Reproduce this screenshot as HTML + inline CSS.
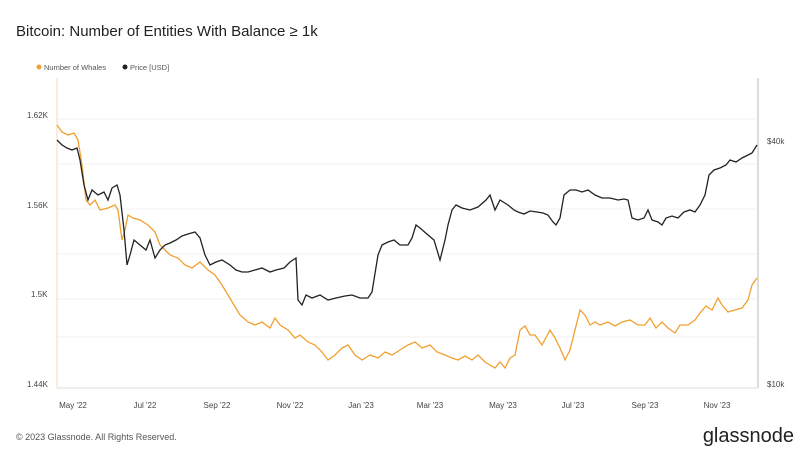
<!DOCTYPE html><html><head><style>body{margin:0;background:#fff;font-family:"Liberation Sans",sans-serif}</style></head><body>
<svg width="811" height="456" xmlns="http://www.w3.org/2000/svg" font-family="Liberation Sans, sans-serif">
<rect width="811" height="456" fill="#fff"/>
<text x="16" y="36" font-size="15" fill="#222">Bitcoin: Number of Entities With Balance ≥ 1k</text>
<circle cx="39" cy="67" r="2.5" fill="#f0a030"/><text x="44" y="70" font-size="7.5" fill="#555">Number of Whales</text>
<circle cx="125" cy="67" r="2.5" fill="#222"/><text x="130" y="70" font-size="7.5" fill="#555">Price [USD]</text>
<g stroke="#f2f2f2" stroke-width="1">
<line x1="57" x2="757" y1="119" y2="119"/><line x1="57" x2="757" y1="164" y2="164"/><line x1="57" x2="757" y1="209" y2="209"/><line x1="57" x2="757" y1="254" y2="254"/><line x1="57" x2="757" y1="299" y2="299"/><line x1="57" x2="757" y1="337" y2="337"/></g>
<line x1="57" x2="757" y1="388" y2="388" stroke="#ddd"/>
<line x1="57" x2="57" y1="78" y2="388" stroke="#f5d9b0"/>
<line x1="758" x2="758" y1="78" y2="388" stroke="#bbb"/>
<g font-size="8" fill="#444"><text x="27" y="118">1.62K</text><text x="27" y="208">1.56K</text><text x="31" y="297">1.5K</text><text x="27" y="387">1.44K</text>
<text x="767" y="144">$40k</text><text x="767" y="387">$10k</text></g>
<g font-size="8" fill="#444" text-anchor="middle"><text x="73" y="408">May '22</text><text x="145" y="408">Jul '22</text><text x="217" y="408">Sep '22</text><text x="290" y="408">Nov '22</text><text x="361" y="408">Jan '23</text><text x="430" y="408">Mar '23</text><text x="503" y="408">May '23</text><text x="573" y="408">Jul '23</text><text x="645" y="408">Sep '23</text><text x="717" y="408">Nov '23</text></g>
<polyline fill="none" stroke="#f0a030" stroke-width="1.3" points="57,125 62,132 68,135 74,133 78,140 82,165 86,200 90,205 95,200 100,210 108,208 115,205 118,210 122,240 125,230 128,215 133,218 140,220 148,225 155,232 160,245 165,250 170,255 178,258 185,265 192,268 200,262 208,270 215,275 222,285 228,295 234,305 240,315 248,322 255,325 262,322 270,328 275,318 280,325 288,330 295,338 300,335 308,342 315,345 322,352 328,360 335,355 342,348 348,345 355,355 362,360 370,355 378,358 385,352 392,355 400,350 408,345 415,342 422,348 430,345 437,352 445,355 452,358 458,360 465,356 472,360 478,355 485,362 490,365 495,368 500,362 505,368 510,358 515,355 520,330 525,326 530,335 535,335 542,345 550,330 555,338 560,348 565,360 570,350 575,330 580,310 585,315 590,325 595,322 600,325 608,322 615,326 622,322 630,320 638,325 645,325 650,318 656,328 662,322 668,328 675,333 680,325 688,325 695,320 700,313 706,306 712,310 718,298 722,305 728,312 735,310 742,308 748,300 752,285 757,278"/>
<polyline fill="none" stroke="#222" stroke-width="1.3" points="57,140 62,145 67,148 72,150 77,148 80,160 84,185 88,200 92,190 98,195 104,192 108,200 112,188 117,185 120,195 124,230 127,265 130,255 134,240 140,245 146,250 150,240 155,258 160,250 165,245 170,243 176,240 182,236 188,234 195,232 200,238 205,255 210,265 216,262 222,260 230,265 236,270 242,272 248,272 255,270 262,268 270,272 276,270 284,268 290,262 296,258 298,300 302,305 306,295 312,298 320,295 328,300 336,298 345,296 352,295 360,298 368,298 372,292 378,255 382,245 388,242 394,240 400,245 408,245 412,238 416,225 420,228 428,235 434,240 440,260 445,240 448,225 452,210 456,205 462,208 470,210 478,207 486,200 490,195 495,210 500,200 508,205 514,210 518,212 524,214 530,211 537,212 543,213 548,215 553,222 556,225 560,218 564,195 570,190 576,190 582,192 588,190 595,195 602,198 610,198 618,200 624,199 628,200 632,218 638,220 644,218 648,210 652,220 658,222 662,225 666,218 672,216 678,218 684,212 690,210 695,212 700,205 705,195 709,175 714,170 720,168 726,165 730,160 736,162 742,158 748,155 752,153 757,145"/>
<text x="16" y="440" font-size="9" fill="#555">© 2023 Glassnode. All Rights Reserved.</text>
<text x="794" y="442" font-size="20" fill="#222" text-anchor="end">glassnode</text>
</svg></body></html>
